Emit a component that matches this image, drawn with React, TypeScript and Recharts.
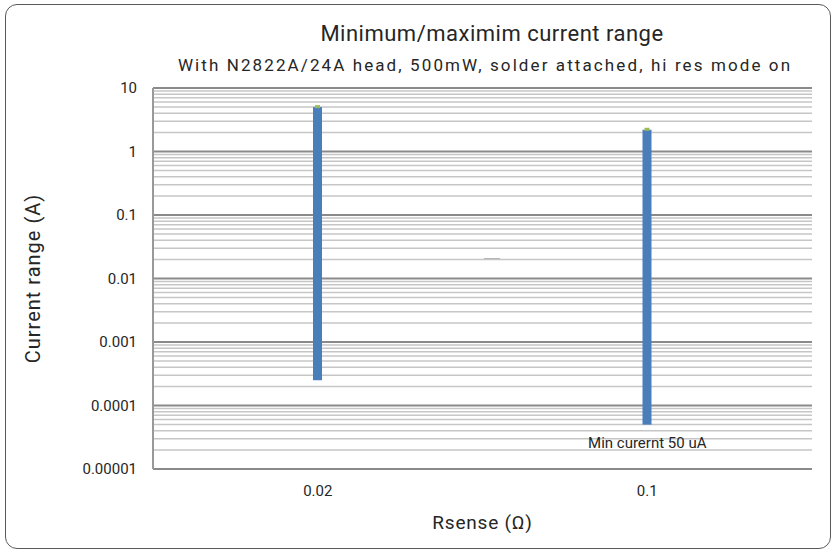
import React from 'react';
import { BarChart, Bar, XAxis, YAxis, CartesianGrid, ReferenceDot } from 'recharts';

const categories = ['0.02', '0.1'];
const minCurrent = [0.00025, 0.00005];
const maxCurrent = [5, 2.2];
const yTicks = [0.00001, 0.0001, 0.001, 0.01, 0.1, 1, 10];
const tickLabels = ['0.00001', '0.0001', '0.001', '0.01', '0.1', '1', '10'];

const data = categories.map((c, i) => ({ name: c, range: [minCurrent[i], maxCurrent[i]] }));

// minor grid lines 2..9 inside each decade
const minorLines: number[] = [];
yTicks.slice(0, -1).forEach((d) => {
    for (let m = 2; m <= 9; m++) minorLines.push(d * m);
});

const FONT = 'Roboto, sans-serif';
const TXT = '#262626';

const RangeBar = (props: any) => {
    const { x, y, width, height } = props;
    return (
        <g>
            <rect x={x} y={y} width={width} height={height} fill="#4a7ebb" />
            <rect x={x + 2} y={y - 2} width={width - 4} height={3} fill="#9bbb59" />
        </g>
    );
};

export default function App() {
    return (
        <div style={{ position: 'absolute', left: 0, top: 0, width: 836, height: 553, background: '#fff', fontFamily: FONT }}>
            <div style={{ position: 'absolute', left: 5, top: 4, width: 824, height: 543, border: '1px solid #595959', borderRadius: 12 }} />
            <div style={{ position: 'absolute', left: 0, width: 836, top: 21, textAlign: 'center', paddingLeft: 148, boxSizing: 'border-box', fontSize: 22, letterSpacing: 0.5, color: TXT }}>
                Minimum/maximim current range
            </div>
            <div style={{ position: 'absolute', left: 0, width: 836, top: 55, textAlign: 'center', paddingLeft: 134, boxSizing: 'border-box', fontSize: 17, letterSpacing: 2.1, color: TXT }}>
                With N2822A/24A head, 500mW, solder attached, hi res mode on
            </div>
            <div style={{ position: 'absolute', left: 484, top: 258, width: 16, height: 2, background: '#b0b0b0' }} />
            <BarChart width={836} height={553} data={data} margin={{ top: 88, right: 24, bottom: 54, left: 93 }}>
                <CartesianGrid vertical={false} stroke="#c6c6c6" strokeWidth={1.5} yAxisId="minor" />
                <CartesianGrid vertical={false} stroke="#8a8a8a" strokeWidth={2} />
                <XAxis dataKey="name" axisLine={false} tickLine={false} height={30}
                    tick={{ fill: TXT, fontSize: 15, fontFamily: FONT }} tickMargin={10}
                    label={{ value: 'Rsense (Ω)', position: 'insideBottom', offset: -30, fill: TXT, fontSize: 19, letterSpacing: 0.8, fontFamily: FONT }} />
                <YAxis yAxisId="minor" hide scale="log" domain={[0.00001, 10]} ticks={minorLines} interval={0} allowDataOverflow />
                <YAxis scale="log" domain={[0.00001, 10]} ticks={yTicks} width={60} interval={0} allowDataOverflow
                    tickFormatter={(v: number) => tickLabels[yTicks.indexOf(v)] ?? String(v)}
                    axisLine={{ stroke: '#999', strokeWidth: 2 }} tickLine={false}
                    tick={{ fill: TXT, fontSize: 15, fontFamily: FONT }} tickMargin={10}
                    label={{ value: 'Current range (A)', angle: -90, position: 'insideLeft', offset: -60, style: { textAnchor: 'middle', letterSpacing: 1 }, fill: TXT, fontSize: 20, fontFamily: FONT }} />
                <Bar dataKey="range" barSize={9} isAnimationActive={false} shape={<RangeBar />} />
                <ReferenceDot x="0.1" y={0.000026} r={0} fill="none" stroke="none"
                    label={{ value: 'Min curernt 50 uA', position: 'center', fill: TXT, fontSize: 15, fontFamily: FONT }} />
            </BarChart>
        </div>
    );
}
